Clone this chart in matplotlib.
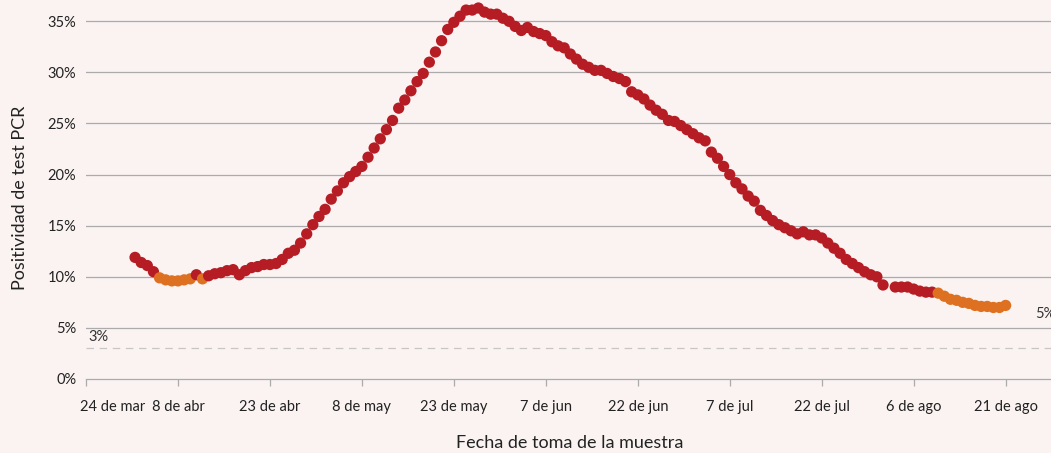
import numpy as np
import pandas as pd
import matplotlib
matplotlib.use("Agg")
import matplotlib.pyplot as plt

# positividad diaria (%) desde el 1 de abril; NaN = sin dato
start_date = "2020-04-01"
positividad = [
    11.9, 11.4, 11.1, 10.5, 9.9, 9.7, 9.6, 9.6, 9.7, 9.8,
    10.2, 9.8, 10.1, 10.3, 10.4, 10.6, 10.7, 10.2, 10.6, 10.9,
    11.0, 11.2, 11.2, 11.3, 11.7, 12.3, 12.6, 13.3, 14.2, 15.1,
    15.9, 16.6, 17.6, 18.4, 19.2, 19.8, 20.3, 20.8, 21.7, 22.6,
    23.5, 24.4, 25.3, 26.5, 27.3, 28.2, 29.1, 29.9, 31.0, 32.0,
    33.1, 34.2, 34.9, 35.5, 36.1, 36.1, 36.3, 35.9, 35.7, 35.7,
    35.3, 35.0, 34.5, 34.1, 34.4, 34.0, 33.8, 33.6, 33.0, 32.6,
    32.4, 31.8, 31.3, 30.8, 30.5, 30.2, 30.2, 29.9, 29.6, 29.4,
    29.1, 28.1, 27.8, 27.4, 26.8, 26.3, 25.9, 25.3, 25.2, 24.8,
    24.4, 24.0, 23.6, 23.3, 22.2, 21.6, 20.8, 20.0, 19.2, 18.6,
    17.9, 17.4, 16.5, 16.0, 15.5, 15.1, 14.8, 14.5, 14.2, 14.4,
    14.1, 14.1, 13.8, 13.3, 12.8, 12.3, 11.7, 11.3, 10.9, 10.5,
    10.2, 10.0, 9.2, np.nan, 9.0, 9.0, 9.0, 8.8, 8.6, 8.5,
    8.5, 8.4, 8.1, 7.8, 7.7, 7.5, 7.4, 7.2, 7.1, 7.1,
    7.0, 7.0, 7.2,
]
# dias marcados en naranja
naranja_rangos = [("2020-04-05", "2020-04-10"), ("2020-04-12", "2020-04-12"),
                  ("2020-08-10", "2020-08-21")]

tick_start = "2020-03-24"
tick_end = "2020-08-21"
meses = {3: "mar", 4: "abr", 5: "may", 6: "jun", 7: "jul", 8: "ago"}

ylabel = "Positividad de test PCR"
xlabel = "Fecha de toma de la muestra"

RED = "#B51C24"
ORANGE = "#DE7121"
BG = "#FBF3F2"
GRID = "#ABABAB"

fechas = pd.date_range(start_date, periods=len(positividad), freq="D")
df = pd.DataFrame({"fecha": fechas, "valor": positividad})
df["naranja"] = False
for a, b in naranja_rangos:
    df.loc[(df["fecha"] >= a) & (df["fecha"] <= b), "naranja"] = True
df["color"] = np.where(df["naranja"], ORANGE, RED)
df = df.dropna(subset=["valor"])

plt.rcParams["font.family"] = ["Lato", "DejaVu Sans"]

fig = plt.figure(figsize=(10.51, 4.53), dpi=100, facecolor=BG)
ax = fig.add_axes([86 / 1051, 1 - 379 / 453, 1 - 86 / 1051, 379 / 453])
ax.set_facecolor(BG)

# grid lines
for v in range(5, 40, 5):
    ax.axhline(v, color=GRID, lw=0.9, zorder=1)
ax.axhline(3, color="#C9C5C4", lw=0.9, ls=(0, (6, 4.5)), zorder=1)

ax.scatter(df["fecha"], df["valor"], s=66, c=df["color"], linewidths=0, zorder=3)

ax.text(pd.Timestamp(tick_start) + pd.Timedelta(days=0.4), 3.4, "3%",
        fontsize=10.5, color="#333333", ha="left", va="bottom")
ax.text(pd.Timestamp("2020-08-25 18:00"), 6.4, "5%", fontsize=10.5, color="#333333",
        ha="left", va="center", clip_on=False)

ax.set_ylim(0, 379 / 10.22)
x0 = pd.Timestamp(tick_start)
ax.set_xlim(x0, x0 + pd.Timedelta(days=157.4))

ticks = pd.date_range(tick_start, tick_end, freq="15D")
ax.set_xticks(ticks)
ax.set_xticklabels([f"{d.day} de {meses[d.month]}" for d in ticks])
ax.set_yticks(range(0, 40, 5))
ax.set_yticklabels([f"{v}%" for v in range(0, 40, 5)])

ax.tick_params(axis="x", length=5, width=0.9, color=GRID, pad=10,
               labelsize=10.5, labelcolor="#222222")
ax.tick_params(axis="y", length=0, pad=7, labelsize=10.5, labelcolor="#222222")
# first label sits to the right of its tick
first = ax.get_xticklabels()[0]
first.set_horizontalalignment("left")
first.set_x(ticks[0])
import matplotlib.transforms as mtransforms
first.set_transform(first.get_transform() + mtransforms.ScaledTranslation(-6 / 100, 0, fig.dpi_scale_trans))

for s in ["left", "right", "top"]:
    ax.spines[s].set_visible(False)
ax.spines["bottom"].set_color(GRID)
ax.spines["bottom"].set_linewidth(0.9)

fig.text(20 / 1051, 1 - 198 / 453, ylabel, rotation=90, ha="center", va="center",
         fontsize=13, color="#222222")
fig.text(570 / 1051, 1 - 443 / 453, xlabel, ha="center", va="center",
         fontsize=13, color="#222222")

fig.savefig("out.png", dpi=100, facecolor=BG)
